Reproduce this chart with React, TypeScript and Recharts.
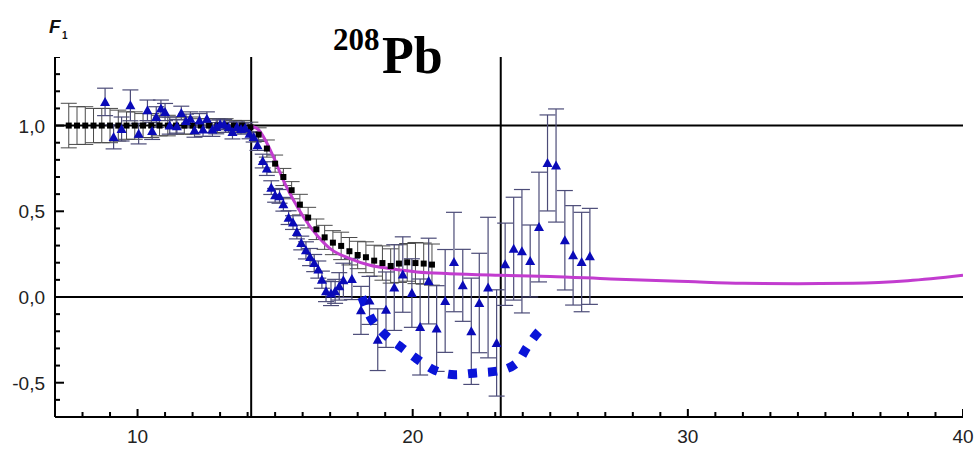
import {
  ComposedChart,
  Scatter,
  Line,
  XAxis,
  YAxis,
  ErrorBar,
  ReferenceLine,
} from "recharts";

// black squares (x, F1, error)
const sqX = [
  7.5, 7.8, 8.1, 8.4, 8.7, 9.0, 9.3, 9.6, 9.9, 10.2, 10.5, 10.8, 11.1, 11.4, 11.7, 12.0, 12.3, 12.6,
  12.9, 13.2, 13.5, 13.8, 14.1, 14.4, 14.7, 15.0, 15.3, 15.6, 15.9, 16.2, 16.5, 16.8, 17.1, 17.4,
  17.7, 18.0, 18.3, 18.6, 18.9, 19.2, 19.5, 19.8, 20.1, 20.4, 20.7,
];
const sqY = [
  1.0, 1.0, 1.0, 1.0, 1.0, 1.0, 1.0, 1.0, 1.0, 1.0, 1.0, 1.0, 1.0, 1.0, 1.0, 1.0, 1.0, 1.0,
  1.0, 1.0, 1.0, 1.0, 0.99, 0.947, 0.866, 0.778, 0.7, 0.623, 0.539, 0.463, 0.395, 0.348, 0.317, 0.298,
  0.267, 0.245, 0.232, 0.212, 0.198, 0.181, 0.195, 0.202, 0.198, 0.195, 0.189,
];
const sqErr = [
  0.13, 0.11, 0.11, 0.1, 0.1, 0.1, 0.09, 0.08, 0.08, 0.07, 0.07, 0.06, 0.06, 0.05, 0.05, 0.05, 0.04, 0.04,
  0.04, 0.04, 0.03, 0.03, 0.03, 0.04, 0.05, 0.05, 0.05, 0.05, 0.06, 0.06, 0.06, 0.07, 0.07, 0.08,
  0.08, 0.08, 0.09, 0.09, 0.1, 0.1, 0.11, 0.11, 0.12, 0.12, 0.12,
];

// blue triangles (x, F1, error)
const triX = [
  8.82, 9.13, 9.42, 9.74, 10.04, 10.36, 10.53, 10.68, 10.85, 11.0, 11.17, 11.43, 11.59, 11.76, 11.92,
  12.07, 12.25, 12.38, 12.52, 12.72, 12.86, 13.0, 13.15, 13.31, 13.45, 13.61, 13.76, 13.91, 14.07,
  14.22, 14.36, 14.55, 14.7, 14.86, 15.0, 15.16, 15.3, 15.49, 15.65, 15.79, 15.95, 16.12, 16.27,
  16.42, 16.57, 16.7, 16.85, 17.03, 17.18, 17.33, 17.48, 17.79, 18.12, 18.43, 18.73, 19.03, 19.33,
  19.64, 19.97, 20.27, 20.58, 20.87, 21.18, 21.5, 21.82, 22.13, 22.42, 22.74, 23.05, 23.36, 23.67,
  23.97, 24.27, 24.59, 24.9, 25.21, 25.53, 25.83, 26.14, 26.44,
];
const triY = [
  1.138, 0.934, 0.98, 1.118, 0.953, 1.089, 0.969, 1.05, 1.099, 1.079, 1.0, 0.996, 1.073, 1.027, 1.04,
  0.972, 1.03, 0.977, 1.04, 0.977, 0.992, 1.008, 1.006, 0.99, 0.962, 0.992, 0.98, 0.986, 0.953,
  0.934, 0.885, 0.793, 0.749, 0.638, 0.593, 0.587, 0.541, 0.463, 0.434, 0.379, 0.315, 0.272, 0.233,
  0.198, 0.16, 0.101, 0.033, 0.02, 0.033, 0.062, 0.097, 0.105, -0.078, -0.02, -0.249, -0.074, 0.055,
  0.131, 0.023, -0.175, 0.093, -0.184, -0.023, 0.204, 0.068, -0.2, -0.035, 0.055, -0.268, 0.191, 0.282,
  0.267, 0.21, 0.408, 0.782, 0.767, 0.331, 0.243, 0.204, 0.237,
];
const triErr = [
  0.08, 0.07, 0.07, 0.09, 0.06, 0.06, 0.05, 0.06, 0.05, 0.05, 0.05, 0.04, 0.04, 0.04, 0.04,
  0.04, 0.04, 0.04, 0.04, 0.04, 0.04, 0.03, 0.03, 0.03, 0.04, 0.03, 0.03, 0.03, 0.03,
  0.03, 0.03, 0.04, 0.04, 0.04, 0.04, 0.04, 0.04, 0.04, 0.04, 0.04, 0.04, 0.05, 0.05,
  0.05, 0.05, 0.05, 0.06, 0.07, 0.07, 0.08, 0.1, 0.12, 0.14, 0.14, 0.18, 0.22, 0.25,
  0.22, 0.2, 0.28, 0.25, 0.25, 0.3, 0.29, 0.21, 0.31, 0.29, 0.41, 0.31, 0.24, 0.3,
  0.36, 0.21, 0.32, 0.28, 0.33, 0.29, 0.29, 0.29, 0.28,
];

// magenta fit curve
const fitX = [14.1, 14.4, 14.94, 15.3, 15.67, 16.03, 16.52, 17.0, 17.72, 18.45, 19.17, 20.15, 21.35, 23.15, 25, 27.2, 30, 32, 34, 36, 38, 40];
const fitY = [1.0, 0.975, 0.817, 0.68, 0.564, 0.467, 0.36, 0.282, 0.224, 0.185, 0.166, 0.146, 0.136, 0.127, 0.12, 0.105, 0.09, 0.08, 0.078, 0.08, 0.095, 0.127];

// thick blue dashed curve
const dashX = [18.15, 18.45, 18.93, 19.54, 20.14, 20.81, 21.54, 22.3, 23.07, 23.78, 24.16, 24.59, 24.8];
const dashY = [0.0, -0.113, -0.21, -0.288, -0.36, -0.428, -0.453, -0.443, -0.432, -0.385, -0.292, -0.2, -0.17];

// vertical marker lines
const markerX = [14.13, 23.2];

const X_MIN = 7;
const X_MAX = 40;
const Y_MIN = -0.7;
const Y_MAX = 1.4;
const xMajor = [10, 20, 30, 40];
const xTicks = Array.from({ length: 34 }, (_, i) => X_MIN + i);
const yMajor = [-0.5, 0, 0.5, 1.0];
const yTicks = Array.from({ length: 22 }, (_, i) => Math.round((Y_MIN + i * 0.1) * 10) / 10);

const squares = sqX.map((x, i) => ({ x, y: sqY[i], e: sqErr[i] }));
const triangles = triX.map((x, i) => ({ x, y: triY[i], e: triErr[i] }));
const fit = fitX.map((x, i) => ({ x, y: fitY[i] }));
const dashed = dashX.map((x, i) => ({ x, y: dashY[i] }));
// tick marks drawn as a scatter sitting on the axes, pointing inward
const xTickMarks = xTicks.map((v) => ({ x: v, y: Y_MIN, major: xMajor.includes(v) }));
const yTickMarks = yTicks.map((v) => ({ x: X_MIN, y: v, major: yMajor.includes(v) }));

const labelFont = "'Liberation Sans', Arial, sans-serif";

const XTick = (props: any) => {
  const { x, y, payload } = props;
  if (!xMajor.includes(payload.value)) return <g />;
  return (
    <text x={x} y={y + 26} textAnchor="middle" fontSize={19} fontFamily={labelFont} fill="#222">
      {payload.value}
    </text>
  );
};

const YTick = (props: any) => {
  const { x, y, payload } = props;
  if (!yMajor.includes(payload.value)) return <g />;
  return (
    <text x={x - 10} y={y + 7} textAnchor="end" fontSize={19} fontFamily={labelFont} fill="#222">
      {payload.value.toFixed(1).replace(".", ",")}
    </text>
  );
};

const XTickMark = (props: any) => {
  const { cx, cy, payload } = props;
  const len = payload.major ? 8 : 5;
  return <rect x={cx - 1} y={cy - len} width={2} height={len} fill="#000" />;
};

const YTickMark = (props: any) => {
  const { cx, cy, payload } = props;
  const len = payload.major ? 9 : 5;
  return <rect x={cx} y={cy - 1} width={len} height={2} fill="#000" />;
};

const SquareDot = (props: any) => {
  const { cx, cy } = props;
  return <rect x={cx - 3} y={cy - 3} width={6} height={6} fill="#000" />;
};

const TriangleDot = (props: any) => {
  const { cx, cy } = props;
  return <polygon points={`${cx},${cy - 5} ${cx + 5},${cy + 4} ${cx - 5},${cy + 4}`} fill="#0a0ab8" />;
};

export default function App() {
  return (
    <div style={{ position: "absolute", left: 0, top: 0, width: 978, height: 449, background: "#fff" }}>
      <ComposedChart width={978} height={449} margin={{ top: 57, right: 15, bottom: 0, left: 0 }}>
        <XAxis
          dataKey="x"
          type="number"
          domain={[X_MIN, X_MAX]}
          ticks={xTicks}
          interval={0}
          allowDataOverflow
          height={32}
          tick={<XTick />}
          tickLine={false}
          tickSize={0}
          tickMargin={0}
          axisLine={{ stroke: "#000", strokeWidth: 2 }}
        />
        <YAxis
          dataKey="y"
          type="number"
          domain={[Y_MIN, Y_MAX]}
          ticks={yTicks}
          interval={0}
          allowDataOverflow
          width={55}
          tick={<YTick />}
          tickLine={false}
          tickSize={0}
          tickMargin={0}
          axisLine={{ stroke: "#000", strokeWidth: 2 }}
        />
        <ReferenceLine y={1} stroke="#000" strokeWidth={2} />
        <ReferenceLine y={0} stroke="#000" strokeWidth={2} />
        {markerX.map((m) => (
          <ReferenceLine key={m} x={m} stroke="#000" strokeWidth={2} />
        ))}
        <Scatter data={xTickMarks} shape={<XTickMark />} isAnimationActive={false} />
        <Scatter data={yTickMarks} shape={<YTickMark />} isAnimationActive={false} />
        <Scatter data={squares} shape={<SquareDot />} isAnimationActive={false}>
          <ErrorBar dataKey="e" direction="y" width={8} stroke="#4a4a4a" strokeWidth={1} />
        </Scatter>
        <Scatter data={triangles} shape={<TriangleDot />} isAnimationActive={false}>
          <ErrorBar dataKey="e" direction="y" width={8} stroke="#4c4c78" strokeWidth={1.2} />
        </Scatter>
        <Line
          data={fit}
          dataKey="y"
          type="monotone"
          stroke="#c23ccf"
          strokeWidth={3}
          dot={false}
          isAnimationActive={false}
        />
        <Line
          data={dashed}
          dataKey="y"
          type="monotone"
          stroke="#0a14d8"
          strokeWidth={9}
          strokeDasharray="9 11"
          dot={false}
          isAnimationActive={false}
        />
      </ComposedChart>
      <svg width={978} height={449} style={{ position: "absolute", left: 0, top: 0, pointerEvents: "none" }}>
        <text x={49} y={33} fontFamily={labelFont} fontWeight="bold" fontStyle="italic" fontSize={19} fill="#111">
          F
        </text>
        <text x={62} y={39} fontFamily={labelFont} fontWeight="bold" fontSize={10} fill="#111">
          1
        </text>
        <text x={333} y={50} fontFamily="'Liberation Serif', 'Times New Roman', serif" fontWeight="bold" fontSize={31} fill="#000">
          208
        </text>
        <text x={382} y={73} fontFamily="'Liberation Serif', 'Times New Roman', serif" fontWeight="bold" fontSize={52} fill="#000">
          Pb
        </text>
      </svg>
    </div>
  );
}
